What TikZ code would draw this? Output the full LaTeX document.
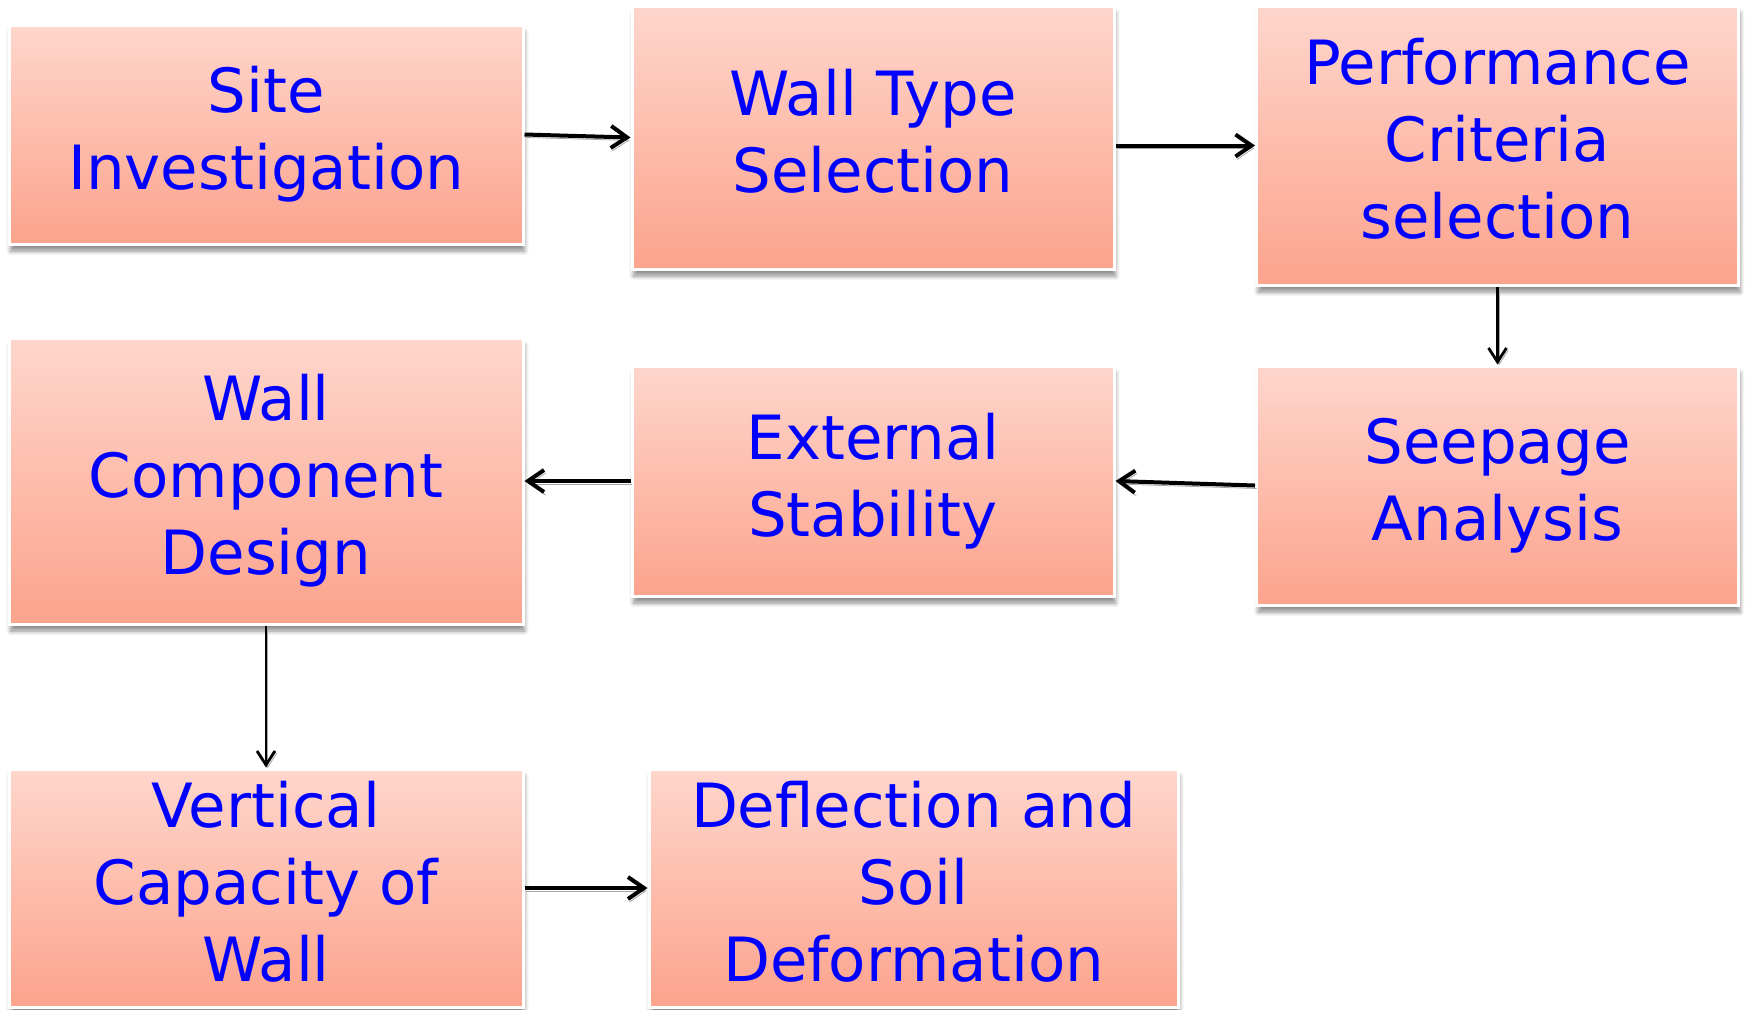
\documentclass[tikz,border=0pt]{standalone}
\usepackage{fontspec}
\setmainfont{DejaVu Sans}
\usepackage{tikz}
\usetikzlibrary{arrows.meta,shadows.blur}
\definecolor{salmontop}{HTML}{FED6CC}
\definecolor{salmonbot}{HTML}{FCA38C}
\definecolor{textblue}{HTML}{0000FF}

\begin{document}
\begin{tikzpicture}[
  x=0.5pt, y=-0.5pt,
  every node/.style={font=\fontsize{30.5}{38.5}\selectfont, text=textblue},
  stepbox/.style={rectangle, draw=white, line width=1.5pt, top color=salmontop, bottom color=salmonbot, align=center, inner sep=0pt,
    blur shadow={shadow xshift=0.8pt, shadow yshift=-3.5pt, shadow blur steps=6, shadow opacity=45}},
  leftbox/.style={stepbox, minimum width=257pt},
  midbox/.style={stepbox, minimum width=241pt},
  liftup/.style={text depth=7pt},
  arr/.style={-{Straight Barb[length=8pt, width=11pt]}, line width=2pt, black,
    preaction={draw=black!35, transform canvas={shift={(0.8pt,-1.5pt)}}}},
  varr/.style={-{Straight Barb[length=7pt, width=9pt]}, line width=1.4pt, black,
    preaction={draw=black!35, transform canvas={shift={(0.8pt,-1.2pt)}}}}
]
\useasboundingbox (0,0) rectangle (1748,1009);

% Top row
\node[leftbox, minimum height=109.5pt] (site) at (266,134.5) {Site\\Investigation};
\node[midbox, liftup, minimum height=131.5pt] (walltype) at (873,137.5) {Wall Type\\Selection};
\node[midbox, liftup, minimum height=139.5pt] (perf) at (1497.5,145.5) {Performance\\Criteria\\selection};

% Middle row
\node[midbox, minimum height=119.5pt] (seepage) at (1497.5,485.5) {Seepage\\Analysis};
\node[midbox, minimum height=115pt] (external) at (873,481) {External\\Stability};
\node[leftbox, minimum height=143pt] (component) at (266,481) {Wall\\Component\\Design};

% Bottom row
\node[leftbox, liftup, minimum height=119pt] (vertical) at (266,888) {Vertical\\Capacity of\\Wall};
\node[stepbox, liftup, minimum width=264.5pt, minimum height=119pt] (deflection) at (913.5,888) {Deflection and\\Soil\\Deformation};

% Arrows
\draw[arr] (site.east) -- (walltype.west);
\draw[arr] (walltype.east |- perf.west) -- (perf.west);
\draw[varr] (perf.south) -- (seepage.north);
\draw[arr] (seepage.west) -- (external.east);
\draw[arr] (external.west) -- (component.east);
\draw[varr] (component.south) -- (vertical.north);
\draw[arr] (vertical.east) -- (deflection.west);

\end{tikzpicture}
\end{document}
